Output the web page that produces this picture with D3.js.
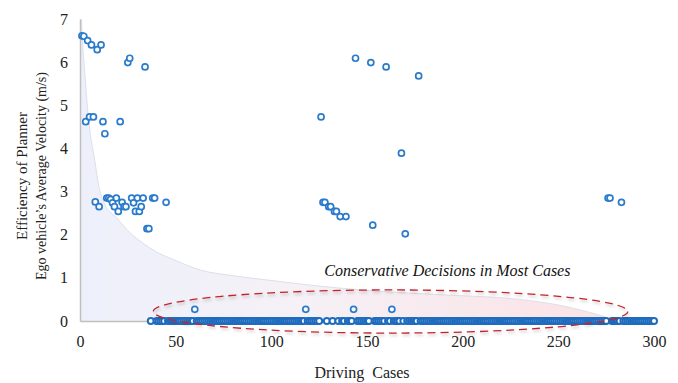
<!DOCTYPE html>
<html>
<head>
<meta charset="utf-8">
<script src="https://cdn.jsdelivr.net/npm/d3@7"></script>
<style>
  html, body { margin: 0; padding: 0; background: #fff; }
  svg, svg text { font-family: "Liberation Serif", "Times New Roman", serif; }
</style>
</head>
<body>
<div id="chart"></div>
<script>
const WIDTH = 678;
const HEIGHT = 383;
const MARGIN = { top: 19, right: 24, bottom: 62, left: 80 };
const SERIF = '"Liberation Serif", "Times New Roman", serif';

// driving cases with a non-zero average velocity (m/s)
const activeCases = [
  1, 2, 3, 4, 5, 6, 7, 8, 9, 10, 11, 12, 13, 14, 15, 16, 17, 18,
  19, 20, 21, 22, 23, 24, 25, 26, 27, 28, 29, 30, 31, 32, 33, 34, 35, 36,
  38, 39, 45, 60, 118, 126, 127, 128, 130, 131, 133, 134, 136, 139,
  143, 144, 152, 153, 160, 163, 168, 170, 177, 276, 277, 283
];
const activeVelocity = [
  6.61, 6.6, 4.62, 6.5, 4.73, 6.4, 4.73, 2.76, 6.29, 2.65, 6.4, 4.62, 4.34, 2.85, 2.85, 2.82, 2.74, 2.65,
  2.85, 2.54, 4.62, 2.75, 2.65, 2.65, 5.99, 6.09, 2.85, 2.74, 2.54, 2.85, 2.54, 2.65, 2.85, 5.89, 2.14, 2.14,
  2.85, 2.85, 2.75, 0.27, 0.27, 4.73, 2.75, 2.75, 2.65, 2.65, 2.54, 2.54, 2.42, 2.42,
  0.27, 6.09, 5.99, 2.22, 5.89, 0.27, 3.89, 2.02, 5.68, 2.85, 2.85, 2.75
];
// every other case from 37 to 300 stopped (velocity 0)
const stoppedFrom = 37;
const stoppedTo = 300;

// shaded efficiency envelope (case, velocity)
const envelopeCase = [0.8, 1.2, 2.6, 4.0, 5.5, 7.8, 9.5, 13, 19, 26, 33, 40, 49, 63, 80, 98, 127, 167, 193, 230, 250, 262, 272, 279, 281];
const envelopeVel = [7.0, 6.6, 5.7, 4.9, 4.3, 3.7, 3.2, 2.7, 2.4, 2.05, 1.8, 1.6, 1.42, 1.18, 1.05, 0.95, 0.8, 0.66, 0.6, 0.5, 0.37, 0.25, 0.13, 0.03, 0];

const xTicks = [0, 50, 100, 150, 200, 250, 300];
const yTicks = [0, 1, 2, 3, 4, 5, 6, 7];

const note = 'Conservative Decisions in Most Cases';
const noteAt = [192, 1.05];
const ellipseCenter = [162.3, 0.22];
const ellipseRadius = [124, 0.5];

const points = [];
activeCases.forEach((c, i) => points.push({ c, v: activeVelocity[i] }));
const activeSet = new Set(activeCases);
d3.range(stoppedFrom, stoppedTo + 1).forEach(c => {
  if (!activeSet.has(c)) points.push({ c, v: 0 });
});
points.sort((a, b) => a.c - b.c);

const svg = d3.select('#chart').append('svg')
  .attr('width', WIDTH)
  .attr('height', HEIGHT);

const x = d3.scaleLinear().domain([0, 300]).range([MARGIN.left, WIDTH - MARGIN.right]);
const y = d3.scaleLinear().domain([0, 7]).range([HEIGHT - MARGIN.bottom, MARGIN.top]);

const defs = svg.append('defs');
const grad = defs.append('linearGradient')
  .attr('id', 'envGrad')
  .attr('gradientUnits', 'userSpaceOnUse')
  .attr('x1', x(0)).attr('x2', x(285)).attr('y1', 0).attr('y2', 0);
grad.append('stop').attr('offset', '0%').attr('stop-color', '#edf0fb');
grad.append('stop').attr('offset', '40%').attr('stop-color', '#f5f1f6');
grad.append('stop').attr('offset', '100%').attr('stop-color', '#fce1e4');

const shadow = defs.append('filter').attr('id', 'shadow')
  .attr('x', '-10%').attr('y', '-50%').attr('width', '120%').attr('height', '200%');
shadow.append('feDropShadow')
  .attr('dx', 1).attr('dy', 2).attr('stdDeviation', 1.5)
  .attr('flood-color', '#000').attr('flood-opacity', 0.25);

// envelope area
const envelope = envelopeCase.map((c, i) => [c, envelopeVel[i]]);
const area = d3.area()
  .x(d => x(d[0]))
  .y0(y(0))
  .y1(d => y(d[1]))
  .curve(d3.curveMonotoneX);
svg.append('path')
  .datum([[0, 7]].concat(envelope))
  .attr('d', area)
  .attr('fill', 'url(#envGrad)');
svg.append('path')
  .datum(envelope)
  .attr('d', d3.line().x(d => x(d[0])).y(d => y(d[1])).curve(d3.curveMonotoneX))
  .attr('fill', 'none')
  .attr('stroke', '#d6d8e4')
  .attr('stroke-width', 0.8);

// axes
const xAxis = svg.append('g')
  .attr('transform', `translate(0,${y(0)})`)
  .call(d3.axisBottom(x).tickValues(xTicks).tickFormat(d3.format('d')).tickSize(0).tickPadding(15));
const yAxis = svg.append('g')
  .attr('transform', `translate(${x(0)},0)`)
  .call(d3.axisLeft(y).tickValues(yTicks).tickFormat(d3.format('d')).tickSize(0).tickPadding(12));
[xAxis, yAxis].forEach(g => {
  g.attr('font-family', SERIF).attr('font-size', 16);
  g.select('.domain').attr('stroke', '#bfbfbf').attr('stroke-width', 1.5);
  g.selectAll('text').attr('fill', '#222');
});

// points
svg.append('g')
  .selectAll('circle')
  .data(points)
  .join('circle')
  .attr('cx', d => x(d.c))
  .attr('cy', d => y(d.v))
  .attr('r', 3)
  .attr('fill', '#fff')
  .attr('stroke', d => d.v === 0 ? '#1f6cbf' : '#2a7bcb')
  .attr('stroke-width', d => d.v === 0 ? 2 : 1.7);

// dashed ellipse
const cx = x(ellipseCenter[0]);
const cy = y(ellipseCenter[1]);
svg.append('ellipse')
  .attr('cx', cx)
  .attr('cy', cy)
  .attr('rx', x(ellipseCenter[0] + ellipseRadius[0]) - cx)
  .attr('ry', cy - y(ellipseCenter[1] + ellipseRadius[1]))
  .attr('fill', 'none')
  .attr('stroke', '#c4232b')
  .attr('stroke-width', 1.3)
  .attr('stroke-dasharray', '8,5')
  .attr('filter', 'url(#shadow)');

svg.append('text')
  .attr('x', x(noteAt[0]))
  .attr('y', y(noteAt[1]))
  .attr('text-anchor', 'middle')
  .attr('font-family', SERIF)
  .attr('font-style', 'italic')
  .attr('font-size', 16)
  .attr('fill', '#111')
  .text(note);

// axis titles
svg.append('text')
  .attr('x', 362)
  .attr('y', 378)
  .attr('text-anchor', 'middle')
  .attr('font-family', SERIF)
  .attr('font-size', 16)
  .attr('fill', '#222')
  .attr('xml:space', 'preserve')
  .text('Driving  Cases');

svg.append('text')
  .attr('transform', 'translate(27,176) rotate(-90)')
  .attr('text-anchor', 'middle')
  .attr('font-family', SERIF)
  .attr('font-size', 15)
  .attr('fill', '#222')
  .text('Efficiency of Planner');

svg.append('text')
  .attr('transform', 'translate(46,176) rotate(-90)')
  .attr('text-anchor', 'middle')
  .attr('font-family', SERIF)
  .attr('font-size', 14)
  .attr('fill', '#222')
  .text('Ego vehicle\u2019s Average Velocity (m/s)');
</script>
</body>
</html>
